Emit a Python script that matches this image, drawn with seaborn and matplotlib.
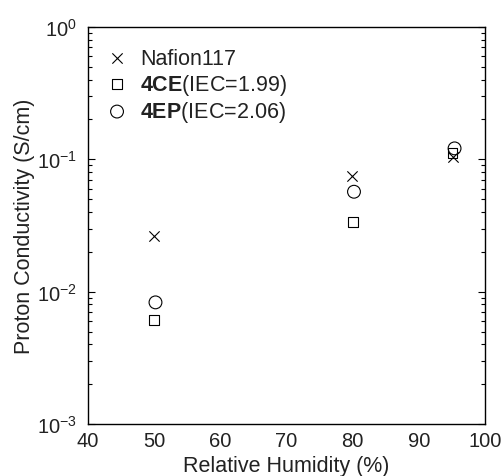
import numpy as np
import matplotlib
matplotlib.use("Agg")
from matplotlib import pyplot as plt
from matplotlib.ticker import LogLocator, NullFormatter, FixedLocator
import seaborn as sb

# relative humidity (%) and proton conductivity (S/cm)
rh_nafion = [50.0, 79.9, 95.1]
sigma_nafion = [0.0265, 0.0752, 0.105]

rh_4ce = [50.0, 80.0, 95.1]
sigma_4ce = [0.0061, 0.0338, 0.112]

rh_4ep = [50.2, 80.2, 95.4]
sigma_4ep = [0.0083, 0.0569, 0.121]

x_ticks = [40, 50, 60, 70, 80, 90, 100]

sb.set_theme(style="white")
plt.rcParams['font.family'] = ['Liberation Sans', 'DejaVu Sans']
plt.rcParams['mathtext.fontset'] = 'custom'
plt.rcParams['mathtext.rm'] = 'Liberation Sans'
plt.rcParams['mathtext.bf'] = 'Liberation Sans:bold'
plt.rcParams['mathtext.it'] = 'Liberation Sans:italic'

fig = plt.figure(figsize=(5.04, 4.77), dpi=100)
ax = fig.add_axes([88 / 504, 1 - 425 / 477, 397 / 504, 397 / 477])

sb.scatterplot(x=rh_nafion, y=sigma_nafion, marker='x', s=55, color='black',
               linewidth=0.8, label='Nafion117', ax=ax)
sb.scatterplot(x=rh_4ce, y=sigma_4ce, marker='s', s=50, facecolor='none',
               edgecolor='black', linewidth=0.8, label=r'$\bf{4CE}$(IEC=1.99)', ax=ax)
sb.scatterplot(x=rh_4ep, y=sigma_4ep, marker='o', s=85, facecolor='none',
               edgecolor='black', linewidth=0.8, label=r'$\bf{4EP}$(IEC=2.06)', ax=ax)

ax.set_yscale('log')
ax.set_xlim(40, 100)
ax.set_ylim(1e-3, 1)
ax.xaxis.set_major_locator(FixedLocator(x_ticks))
ax.yaxis.set_major_locator(LogLocator(base=10, numticks=10))
ax.yaxis.set_minor_locator(LogLocator(base=10, subs=np.arange(2, 10), numticks=10))
ax.yaxis.set_minor_formatter(NullFormatter())

for s in ax.spines.values():
    s.set_color('black')
    s.set_linewidth(1.0)

ax.tick_params(axis='x', which='both', length=0, labelsize=14.5, pad=5, colors='#222222')
ax.tick_params(axis='y', which='both', direction='in', left=True, right=True,
               labelsize=14.5, pad=8, colors='#222222')
ax.tick_params(axis='y', which='major', length=5, width=0.8, color='black')
ax.tick_params(axis='y', which='minor', length=3, width=0.8, color='black')

ax.set_xlabel('Relative Humidity (%)', fontsize=15.5, color='#222222', labelpad=4)
ax.set_ylabel('Proton Conductivity (S/cm)', fontsize=15.5, color='#222222', labelpad=1)

leg = ax.legend(loc='upper left', frameon=False, fontsize=15.5, handlelength=1.0,
                handletextpad=0.57, labelspacing=0.12, borderpad=0, borderaxespad=0,
                bbox_to_anchor=(0.046, 0.947))
for t in leg.get_texts():
    t.set_color('#222222')

fig.savefig('out.png', dpi=100)
